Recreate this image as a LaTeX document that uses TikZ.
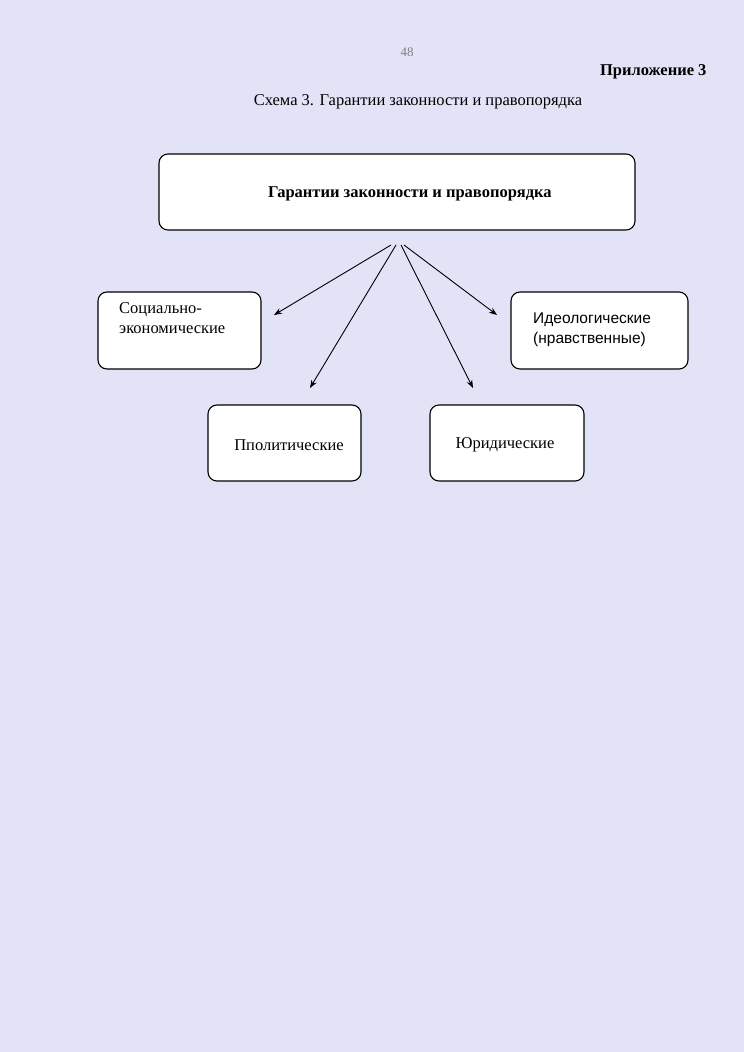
\documentclass[tikz,border=0pt]{standalone}
\usepackage{fontspec}
\setmainfont{Liberation Serif}
\newfontfamily\arialf{Liberation Sans}
\usetikzlibrary{arrows.meta}
\definecolor{bg}{RGB}{227,227,248}
\begin{document}
\begin{tikzpicture}[x=1pt,y=-1pt,
  box/.style={draw,line width=1.1pt,rounded corners=9pt,fill=white,inner sep=0},
  arr/.style={-{Stealth[length=8pt,width=6pt]},line width=0.9pt},
  every node/.style={font=\fontsize{16.5}{20}\selectfont}]
\fill[bg] (0,0) rectangle (744,1052);
\useasboundingbox (0,0) rectangle (744,1052);
\node[text=gray,font=\fontsize{13}{14}\selectfont] (pg) at (407,52) {48};
\node[anchor=east,font=\fontsize{16.5}{18}\selectfont\bfseries] (app) at (710,72) {Приложение 3};
\node (cap) at (418,102) {Схема 3. Гарантии законности и правопорядка};
\draw[box] (159,154) rectangle (635,230);
\node[font=\fontsize{16.5}{18}\selectfont\bfseries] (main) at (410,194) {Гарантии законности и правопорядка};
\draw[box] (98,292) rectangle (261,369);
\node[anchor=north west,align=left,inner sep=0] (soc) at (119,302) {Социально-\\экономические};
\draw[box] (511,292) rectangle (688,369);
\node[anchor=north west,align=left,inner sep=0,font=\fontsize{15.5}{20}\selectfont\arialf] (ideo) at (533,313) {Идеологические\\(нравственные)};
\draw[box] (208,405) rectangle (361,481);
\node (pol) at (289,445) {Пполитические};
\draw[box] (430,405) rectangle (584,481);
\node (jur) at (505,445) {Юридические};
\coordinate (s1) at (391,245); \coordinate (e1) at (274,315);
\coordinate (s2) at (396,245); \coordinate (e2) at (310,388);
\coordinate (s3) at (401,245); \coordinate (e3) at (473,388);
\coordinate (s4) at (404,245); \coordinate (e4) at (497,315);
\draw[arr] (s1) -- (e1);
\draw[arr] (s2) -- (e2);
\draw[arr] (s3) -- (e3);
\draw[arr] (s4) -- (e4);
\end{tikzpicture}
\end{document}
